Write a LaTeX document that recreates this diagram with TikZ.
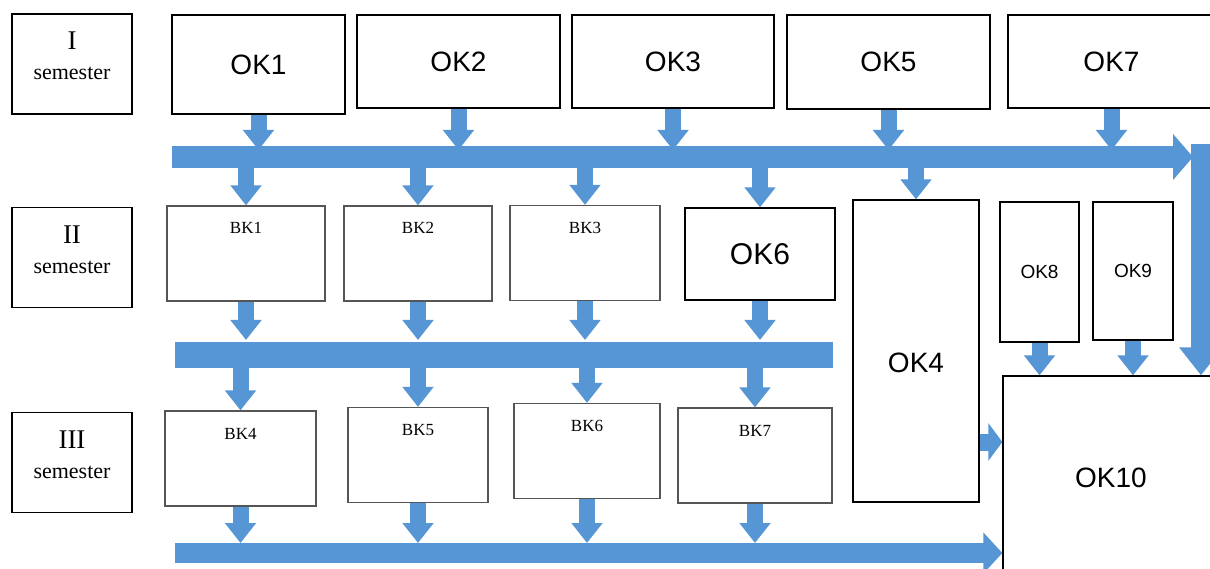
\documentclass[tikz,border=0pt]{standalone}
\usepackage{fontspec}
\setmainfont{Liberation Serif}
\setsansfont{Liberation Sans}
\usepackage{xcolor}
\usepackage{tikz}
\usetikzlibrary{arrows.meta}
\definecolor{flowblue}{RGB}{86,150,212}
\definecolor{bkline}{RGB}{85,85,85}

\begin{document}
\begin{tikzpicture}[x=1pt, y=-1pt,
  sem/.style={draw=black, line width=1.3pt, minimum width=120pt, minimum height=100pt, inner sep=0pt, align=center, font=\rmfamily\fontsize{22}{30}\selectfont, text height=66pt, text depth=34pt},
  ok/.style={draw=black, fill=white, line width=1.3pt, inner sep=0pt, font=\sffamily\fontsize{28}{30}\selectfont},
  oksmall/.style={ok, font=\sffamily\fontsize{19}{21}\selectfont},
  bk/.style={draw=bkline, fill=white, line width=1.2pt, inner sep=0pt, minimum height=95pt, font=\rmfamily\fontsize{17}{20}\selectfont, text height=28pt, text depth=67pt},
  pipe/.style={draw=flowblue, line width=16pt, -{Triangle[length=20pt, width=30pt]}},
  bus/.style={draw=flowblue, line width=22pt, -{Triangle[length=20pt, width=45pt]}}]
  \path[use as bounding box, fill=white] (0,0) rectangle (1210,569);
  \clip (0,0) rectangle (1210,569);
  % semesters
  \node[sem] (sem1) at (72,64) {{\fontsize{27}{30}\selectfont I}\\semester};
  \node[sem] (sem2) at (72,257.5) {{\fontsize{27}{30}\selectfont II}\\semester};
  \node[sem] (sem3) at (72,462.5) {{\fontsize{27}{30}\selectfont III}\\semester};
  % first row
  \node[ok, minimum width=173pt, minimum height=99pt] (ok1) at (258.5,64.5) {OK1};
  \node[ok, minimum width=203pt, minimum height=93pt] (ok2) at (458.5,61.5) {OK2};
  \node[ok, minimum width=202pt, minimum height=93pt] (ok3) at (673,61.5) {OK3};
  \node[ok, minimum width=203pt, minimum height=94pt] (ok5) at (888.5,62) {OK5};
  \node[ok, minimum width=207pt, minimum height=93pt] (ok7) at (1111.5,61.5) {OK7};
  % second row
  \node[bk, minimum width=158pt] (bk1) at (246,253.5) {BK1};
  \node[bk, minimum width=148pt] (bk2) at (418,253.5) {BK2};
  \node[bk, minimum width=150pt] (bk3) at (585,253) {BK3};
  \node[ok, minimum width=150pt, minimum height=92pt, font=\sffamily\fontsize{30}{32}\selectfont] (ok6) at (760,254) {OK6};
  \node[ok, minimum width=126pt, text height=172pt, text depth=130pt] (ok4) at (916,351) {OK4};
  \node[oksmall, minimum width=79pt, minimum height=140pt] (ok8) at (1039.5,272) {OK8};
  \node[oksmall, minimum width=80pt, minimum height=138pt] (ok9) at (1133,271) {OK9};
  \node[ok, minimum width=216pt, minimum height=204pt] (ok10) at (1111,478) {OK10};
  % third row
  \node[bk, minimum width=151pt] (bk4) at (240.5,458.5) {BK4};
  \node[bk, minimum width=140pt] (bk5) at (418,455) {BK5};
  \node[bk, minimum width=146pt] (bk6) at (587,451) {BK6};
  \node[bk, minimum width=154pt] (bk7) at (755,455.5) {BK7};
  % blue buses
  \coordinate (bus1) at (172,157);
  \coordinate (bus1e) at (1193,157);
  \coordinate (bus1r) at (1201,144);
  \coordinate (bus2) at (175,355);
  \coordinate (bus2e) at (833,355);
  \coordinate (bus3) at (175,553);
  \draw[bus] (bus1) -- (bus1e);
  \draw[bus, line width=20pt, -{Triangle[length=28pt, width=42pt]}] (bus1r) -- (bus1r |- ok10.north);
  \draw[flowblue, line width=26pt] (bus2) -- (bus2e);
  \draw[bus, line width=20pt, -{Triangle[length=19pt, width=40pt]}] (bus3) -- (bus3 -| ok10.west);
  \foreach \n in {ok1,ok2,ok3,ok5,ok7} \draw[pipe] (\n.south) -- ([yshift=7pt]\n.south |- bus1);
  \foreach \n in {bk1,bk2,bk3,ok6,ok4} \draw[pipe] (bus1 -| \n.north) -- (\n.north);
  \foreach \n in {bk1,bk2,bk3,ok6} \draw[pipe] (\n.south) -- ([yshift=15pt]\n.south |- bus2);
  \foreach \n in {bk4,bk5,bk6,bk7} \draw[pipe] (bus2 -| \n.north) -- (\n.north);
  \foreach \n in {bk4,bk5,bk6,bk7} \draw[pipe] (\n.south) -- ([yshift=10pt]\n.south |- bus3);
  \foreach \n in {ok8,ok9} \draw[pipe] (\n.south) -- (\n.south |- ok10.north);
  \draw[pipe, line width=17pt, -{Triangle[length=14pt, width=37pt]}] ([yshift=-91pt]ok4.east) -- ([yshift=-91pt]ok4.east -| ok10.west);
\end{tikzpicture}
\end{document}
